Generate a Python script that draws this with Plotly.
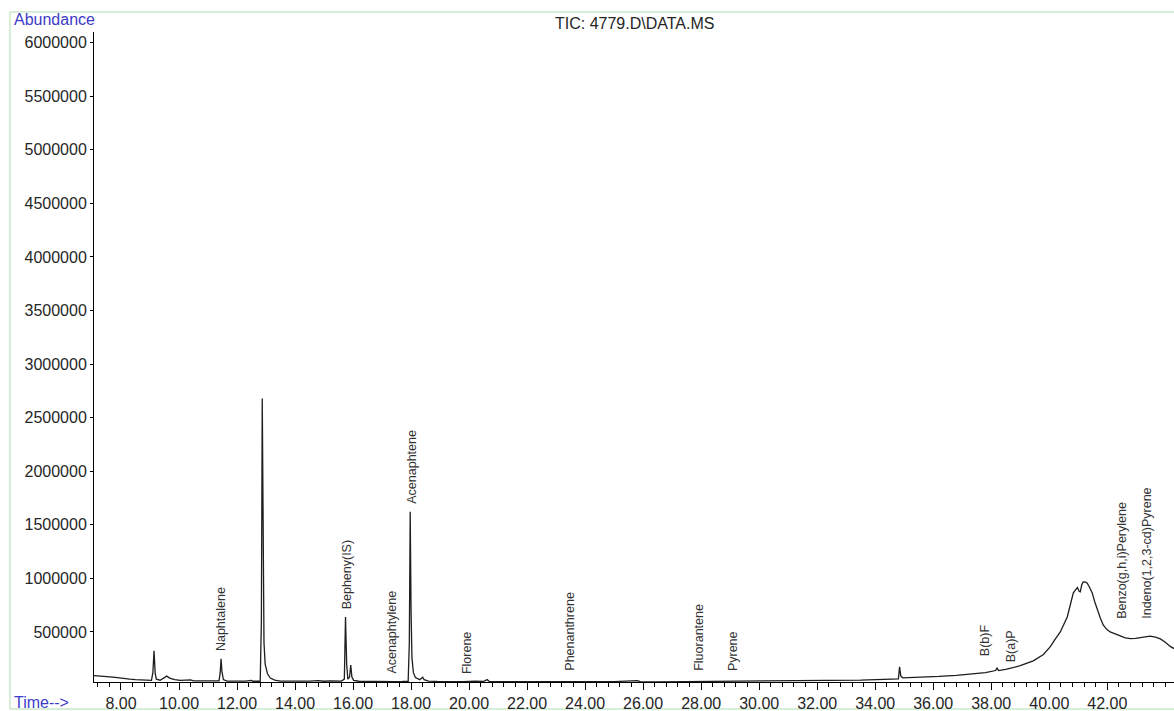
import plotly.graph_objects as go

# ---- chromatogram (retention time in min, abundance) ----
time_min = [
    7.07, 7.25, 7.45, 7.62, 7.80, 7.95, 8.10, 8.30, 8.50, 8.70, 8.90, 9.05,
    9.10, 9.14, 9.18, 9.22, 9.35, 9.50, 9.58, 9.68, 9.85, 10.05, 10.30, 10.40,
    10.50, 10.80, 11.10, 11.38, 11.42, 11.45, 11.48, 11.53, 11.65, 12.00, 12.30,
    12.50, 12.55, 12.80, 12.84, 12.87, 12.90, 12.93, 12.97, 13.05, 13.15, 13.30,
    13.50, 13.80, 14.00, 14.20, 14.50, 14.80, 15.00, 15.20, 15.40, 15.60, 15.70,
    15.74, 15.78, 15.82, 15.88, 15.92, 15.96, 16.02, 16.20, 16.50, 16.80, 17.10,
    17.40, 17.70, 17.90, 17.94, 17.97, 18.00, 18.03, 18.08, 18.15, 18.30, 18.40,
    18.45, 18.60, 18.90, 19.30, 19.80, 20.20, 20.50, 20.62, 20.70, 21.00, 22.00,
    23.00, 23.50, 24.00, 25.00, 25.80, 25.90, 26.50, 27.50, 28.50, 29.50, 30.40,
    31.50, 32.50, 33.50, 34.30, 34.80, 34.84, 34.88, 34.95, 35.50, 36.20, 36.80,
    37.30, 37.80, 38.15, 38.20, 38.25, 38.50, 39.00, 39.45, 39.80, 40.03, 40.20,
    40.38, 40.50, 40.62, 40.75, 40.83, 40.90, 40.97, 41.03, 41.07, 41.12, 41.17,
    41.25, 41.31, 41.40, 41.48, 41.57, 41.66, 41.76, 41.86, 41.98, 42.10, 42.28,
    42.45, 42.62, 42.80, 42.97, 43.14, 43.30, 43.48, 43.66, 43.83, 44.00, 44.17,
    44.30,
]
abundance = [
    92000, 86000, 84000, 80000, 76000, 70000, 64000, 60000, 55000, 52000, 50000, 48000,
    120000, 325000, 110000, 60000, 50000, 78000, 88000, 70000, 55000, 48000, 46000, 52000,
    44000, 42000, 42000, 44000, 120000, 250000, 130000, 55000, 42000, 40000, 41000,
    48000, 40000, 40000, 600000, 2680000, 1400000, 400000, 200000, 110000, 70000, 50000,
    42000, 40000, 43000, 40000, 42000, 45000, 40000, 44000, 40000, 42000, 60000,
    640000, 200000, 60000, 80000, 192000, 80000, 48000, 40000, 38000, 37000, 38000,
    37000, 38000, 40000, 400000, 1621000, 700000, 260000, 120000, 75000, 55000, 78000,
    55000, 42000, 38000, 36000, 36000, 40000, 38000, 55000, 38000, 36000, 37000,
    36000, 39000, 35000, 37000, 45000, 36000, 35000, 37000, 35000, 37000, 40000,
    42000, 45000, 50000, 58000, 62000, 175000, 90000, 72000, 76000, 85000, 95000,
    107000, 120000, 140000, 165000, 140000, 150000, 185000, 230000, 290000, 360000, 430000,
    500000, 570000, 640000, 780000, 865000, 890000, 915000, 880000, 875000, 940000, 967000,
    965000, 955000, 910000, 865000, 780000, 705000, 630000, 565000, 525000, 500000, 478000,
    463000, 445000, 437000, 440000, 448000, 458000, 462000, 452000, 435000, 405000, 365000,
    345000,
]

# ---- peak labels ----
peak_names = [
    "Naphtalene", "Bepheny(IS)", "Acenaphtylene", "Acenaphtene", "Florene",
    "Phenanthrene", "Fluorantene", "Pyrene", "B(b)F", "B(a)P",
    "Benzo(g,h,i)Perylene", "Indeno(1,2,3-cd)Pyrene",
]
peak_times = [11.45, 15.79, 17.31, 18.03, 19.93, 23.45, 27.90, 29.10, 37.79, 38.69, 42.52, 43.38]
label_base = [313000, 706000, 98000, 1687000, 98000, 126000, 126000, 126000, 266000, 210000, 612000, 612000]

# ---- axes ----
x_tick_vals = [8, 10, 12, 14, 16, 18, 20, 22, 24, 26, 28, 30, 32, 34, 36, 38, 40, 42, 44]
x_tick_text = ["8.00", "10.00", "12.00", "14.00", "16.00", "18.00", "20.00", "22.00", "24.00",
               "26.00", "28.00", "30.00", "32.00", "34.00", "36.00", "38.00", "40.00", "42.00", ""]
y_tick_vals = [500000, 1000000, 1500000, 2000000, 2500000, 3000000, 3500000, 4000000,
               4500000, 5000000, 5500000, 6000000]
title_text = "TIC: 4779.D\\DATA.MS"

FONT = "Liberation Sans, Arial, sans-serif"
BLUE = "#3c3cc8"
INK = "#262626"

fig = go.Figure()
fig.add_trace(go.Scatter(x=time_min, y=abundance, mode="lines",
                         line=dict(color="#1e1e1e", width=1.3), hoverinfo="x+y",
                         showlegend=False))

minor_vals = [round(7.2 + 0.4 * i, 2) for i in range(93)]

fig.update_layout(
    width=1174, height=711, autosize=False,
    margin=dict(l=94, r=0, t=32, b=29),
    paper_bgcolor="white", plot_bgcolor="white",
    font=dict(family=FONT, size=16, color=INK),
    showlegend=False,
    xaxis=dict(range=[7.07, 44.3], showgrid=False, zeroline=False,
               showline=True, linecolor="black", linewidth=1,
               tickmode="array", tickvals=x_tick_vals, ticktext=x_tick_text,
               ticks="outside", ticklen=7, tickcolor="black", tickwidth=1,
               tickfont=dict(size=16, color=INK, family=FONT),
               minor=dict(tickmode="array", tickvals=minor_vals, ticks="outside",
                          ticklen=4, tickcolor="black", tickwidth=1, showgrid=False)),
    yaxis=dict(range=[33000, 6100000], showgrid=False, zeroline=False,
               showline=True, linecolor="black", linewidth=1,
               tickmode="array", tickvals=y_tick_vals, tickformat="d",
               ticks="outside", ticklen=3, tickcolor="black", tickwidth=1,
               tickfont=dict(size=16, color=INK, family=FONT)),
)

# frame around the whole picture
fig.add_shape(type="rect", xref="paper", yref="paper",
              x0=-0.0778, x1=1.01, y0=-0.0415, y1=1.0308,
              line=dict(color="#b0deb0", width=1), fillcolor="rgba(0,0,0,0)", layer="below")

fig.add_annotation(text=title_text, xref="paper", yref="paper", x=0.5, y=1.0138,
                   xanchor="center", yanchor="middle", showarrow=False,
                   font=dict(size=16, color=INK, family=FONT))
fig.add_annotation(text="Abundance", xref="paper", yref="paper", x=-0.0759, y=1.0185,
                   xanchor="left", yanchor="middle", showarrow=False,
                   font=dict(size=16, color=BLUE, family=FONT))
fig.add_annotation(text="Time-->", xref="paper", yref="paper", x=-0.0759, y=-0.0323,
                   xanchor="left", yanchor="middle", showarrow=False,
                   font=dict(size=16, color=BLUE, family=FONT))

for name, t, b in zip(peak_names, peak_times, label_base):
    fig.add_annotation(text=name, x=t, y=b, xref="x", yref="y",
                       textangle=-90, xanchor="center", yanchor="bottom",
                       showarrow=False, borderpad=0,
                       font=dict(size=12.5, color="#333333", family=FONT))

fig.write_html("out.html",
               config={"displayModeBar": False},
               post_script="document.body.style.margin='0';document.body.style.overflow='hidden';")
